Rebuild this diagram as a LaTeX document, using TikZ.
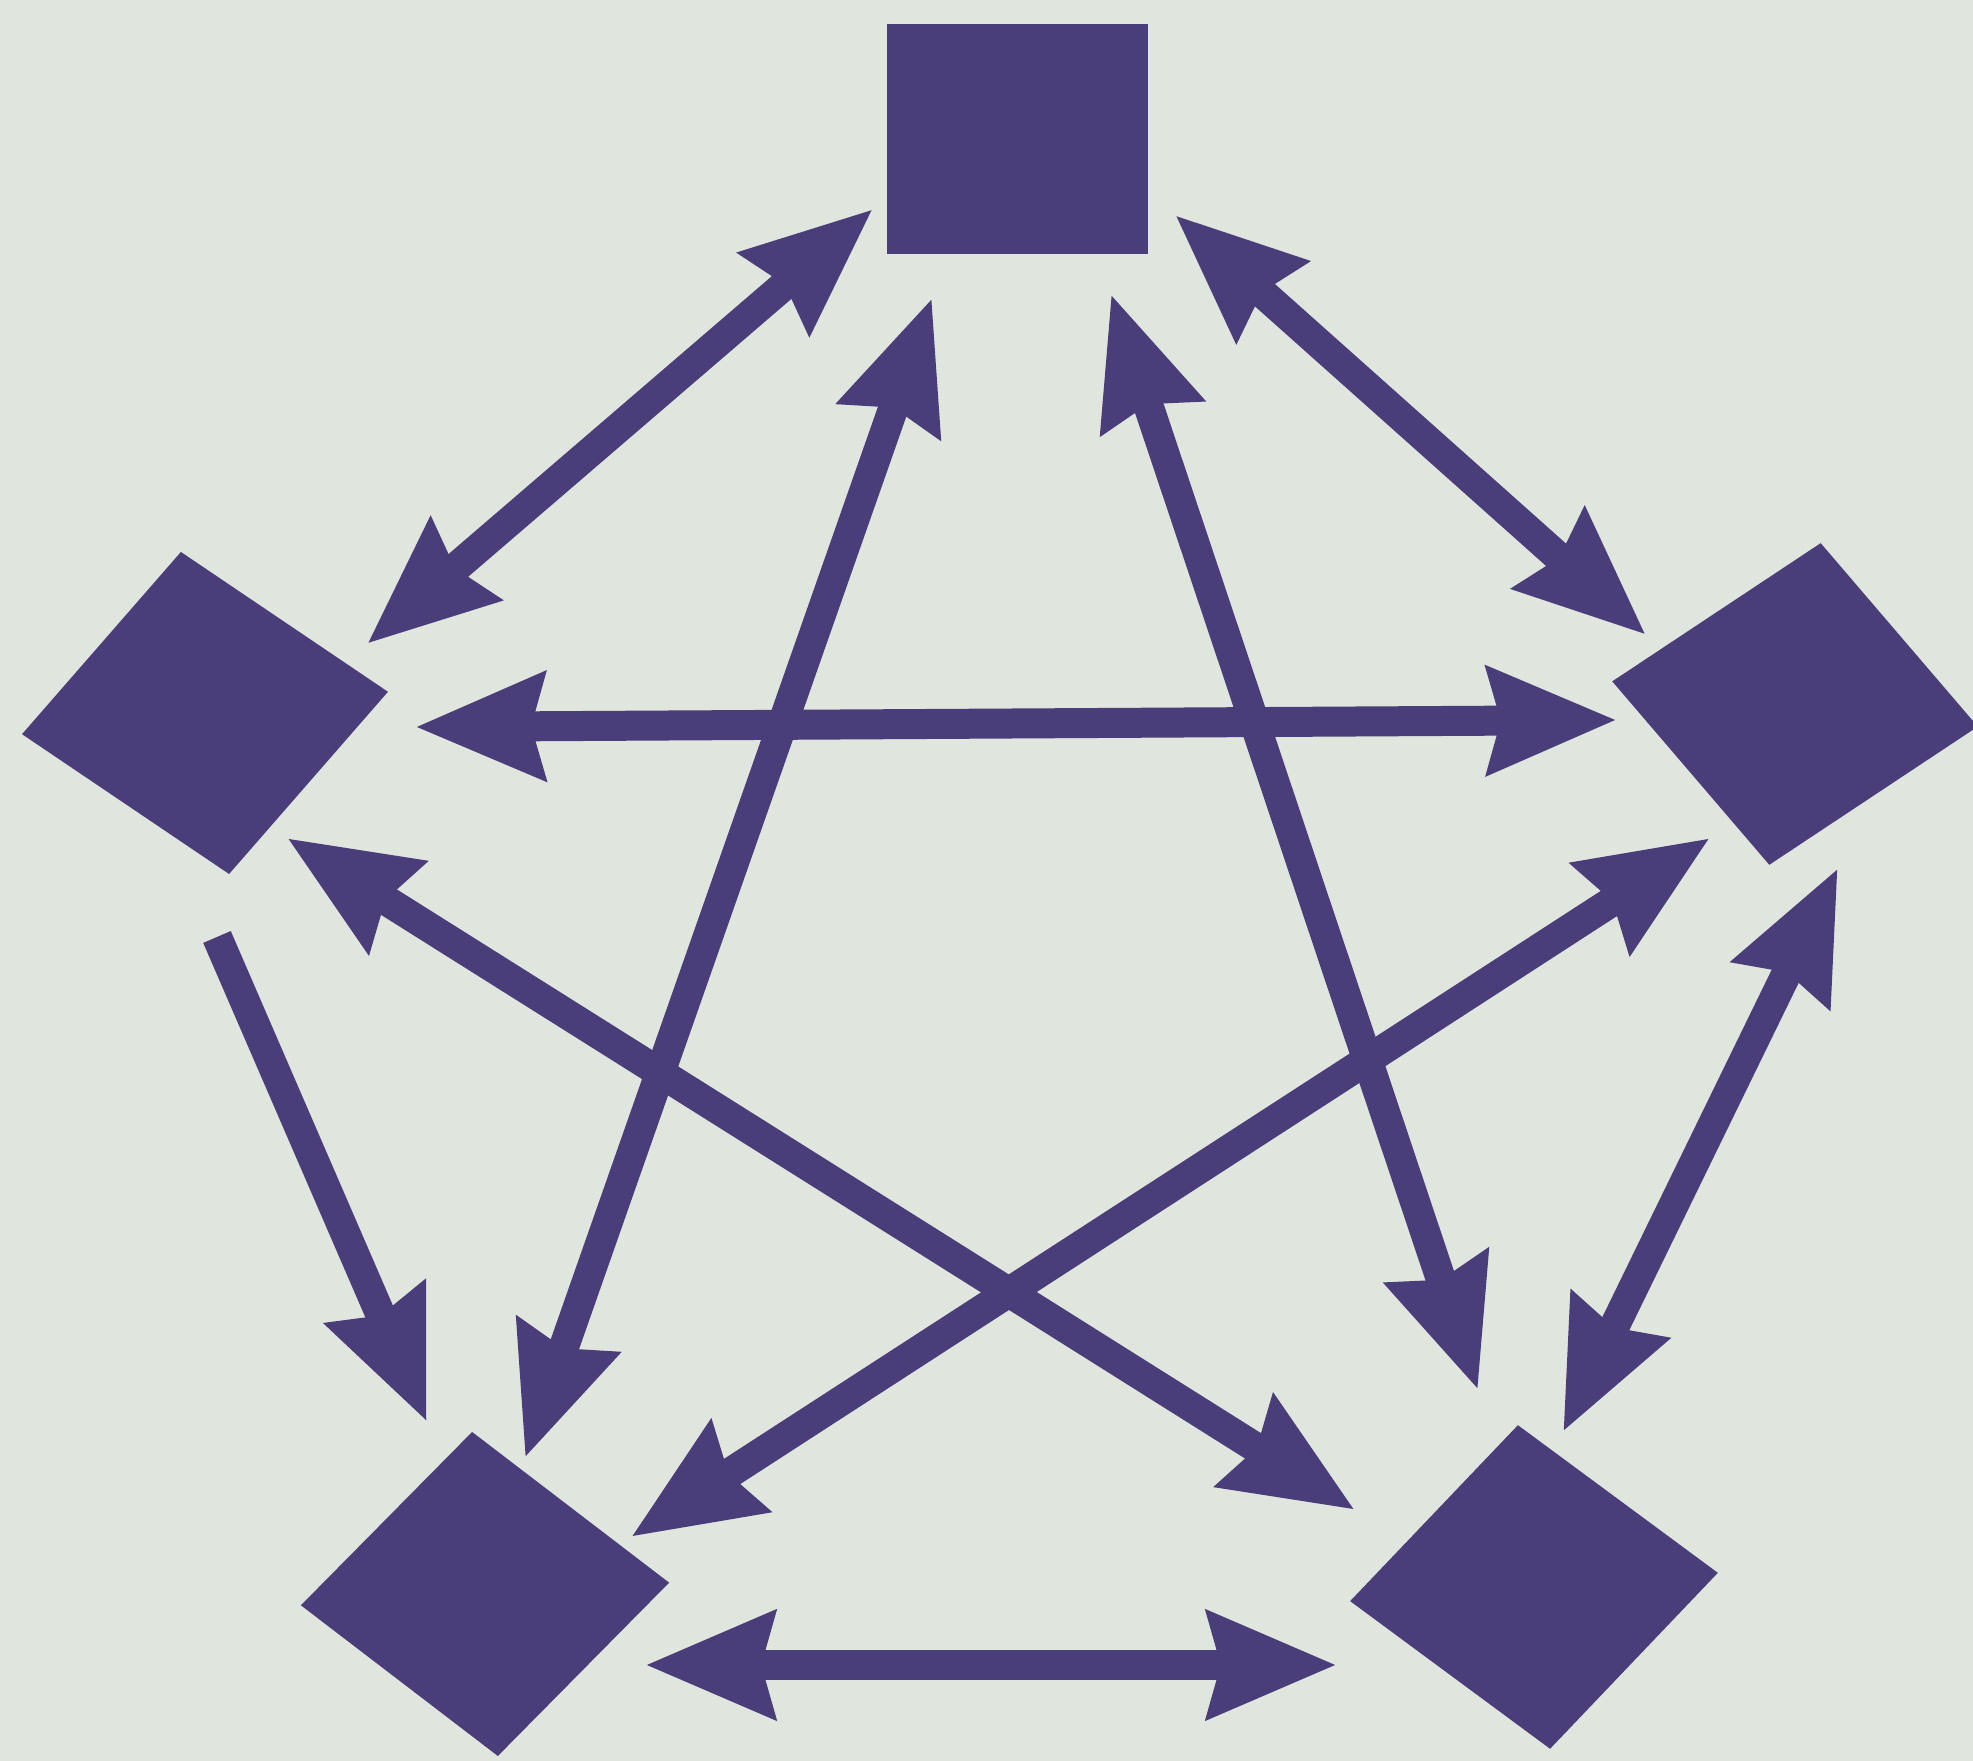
\documentclass[tikz,border=0pt]{standalone}
\usetikzlibrary{arrows.meta}
\definecolor{ink}{RGB}{73,61,122}
\definecolor{paper}{RGB}{224,229,221}
\begin{document}
\begin{tikzpicture}[>={Stealth[length=12.8mm,width=10.4mm,inset=1.2mm]},sq/.style={fill=ink,minimum size=2.61cm,inner sep=0pt,yscale=0.88},link/.style={ink,line width=0.3cm}]
\fill[paper] (0,0) rectangle (19.73,17.61);
\useasboundingbox (0,0) rectangle (19.73,17.61);
% the five squares
\node[sq] (t) at (10.17,16.22) {};
\node[sq,rotate=-37.5] (l) at (2.05,10.48) {};
\node[sq,rotate=37] (r) at (17.95,10.57) {};
\node[sq,rotate=-41] (bl) at (4.85,1.67) {};
\node[sq,rotate=-40] (br) at (15.34,1.74) {};
% arrow ends
\coordinate (tl) at (8.73,15.52); \coordinate (lt) at (3.67,11.17);
\coordinate (tr) at (11.75,15.46); \coordinate (rt) at (16.46,11.26);
\coordinate (lr) at (4.15,10.34); \coordinate (rl) at (16.17,10.41);
\coordinate (tbl) at (9.32,14.63); \coordinate (blt) at (5.25,3.03);
\coordinate (tbr) at (11.11,14.67); \coordinate (brt) at (14.78,3.71);
\coordinate (lbr) at (2.87,9.23); \coordinate (brl) at (13.55,2.51);
\coordinate (rbl) at (17.10,9.23); \coordinate (blr) at (6.31,2.24);
\coordinate (rbr) at (18.38,8.93); \coordinate (brr) at (15.63,3.29);
\coordinate (lbl) at (2.17,8.24); \coordinate (bll) at (4.27,3.39);
\coordinate (blbr) at (6.45,0.96); \coordinate (brbl) at (13.37,0.96);
% connectors
\draw[link,<->] (tl)--(lt);
\draw[link,<->] (tr)--(rt);
\draw[link,<->] (lr)--(rl);
\draw[link,<->] (tbl)--(blt);
\draw[link,<->] (tbr)--(brt);
\draw[link,<->] (lbr)--(brl);
\draw[link,<->] (rbl)--(blr);
\draw[link,<->] (rbr)--(brr);
\draw[link,->] (lbl)--(bll);
\draw[link,<->] (blbr)--(brbl);
\end{tikzpicture}
\end{document}
